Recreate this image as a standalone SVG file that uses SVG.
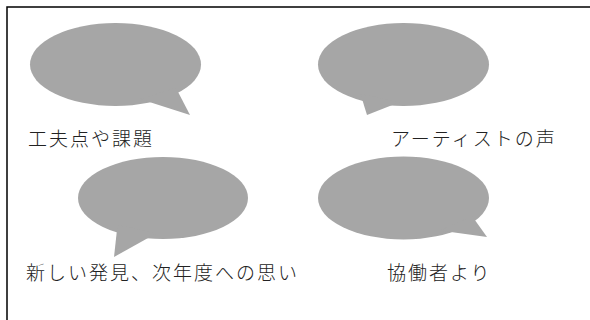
<svg xmlns="http://www.w3.org/2000/svg" width="590" height="320" viewBox="0 0 590 320">
<style>
.frame{fill:none;stroke:#000;stroke-width:1.5}
.bubble{fill:#a6a6a6}
.lbl{font-family:"Noto Sans CJK JP","Noto Sans CJK SC",sans-serif;font-size:19px;font-weight:300;letter-spacing:2px;fill:#222}
</style>
<rect class="frame" x="7" y="7" width="620" height="340"/>
<g id="node-kufuten">
<ellipse class="bubble" cx="115.5" cy="64.5" rx="85.5" ry="41.5"/>
<polygon class="bubble" points="176,88 190,115 140,99"/>
<text class="lbl" x="28" y="146">工夫点や課題</text>
</g>
<g id="node-artist">
<ellipse class="bubble" cx="403.5" cy="64.5" rx="85.5" ry="41.5"/>
<polygon class="bubble" points="360.5,94 367,115 400,102"/>
<text class="lbl" x="391" y="146">アーティストの声</text>
</g>
<g id="node-hakken">
<ellipse class="bubble" cx="163" cy="198" rx="85" ry="41"/>
<polygon class="bubble" points="117.5,225 114,257 157,233"/>
<text class="lbl" x="26" y="280">新しい発見、次年度への思い</text>
</g>
<g id="node-kyodo">
<ellipse class="bubble" cx="403.5" cy="198" rx="85.5" ry="41.5"/>
<polygon class="bubble" points="472,216 487,237 440,230.6"/>
<text class="lbl" x="387" y="280">協働者より</text>
</g>
<g id="connectors"></g>
</svg>
